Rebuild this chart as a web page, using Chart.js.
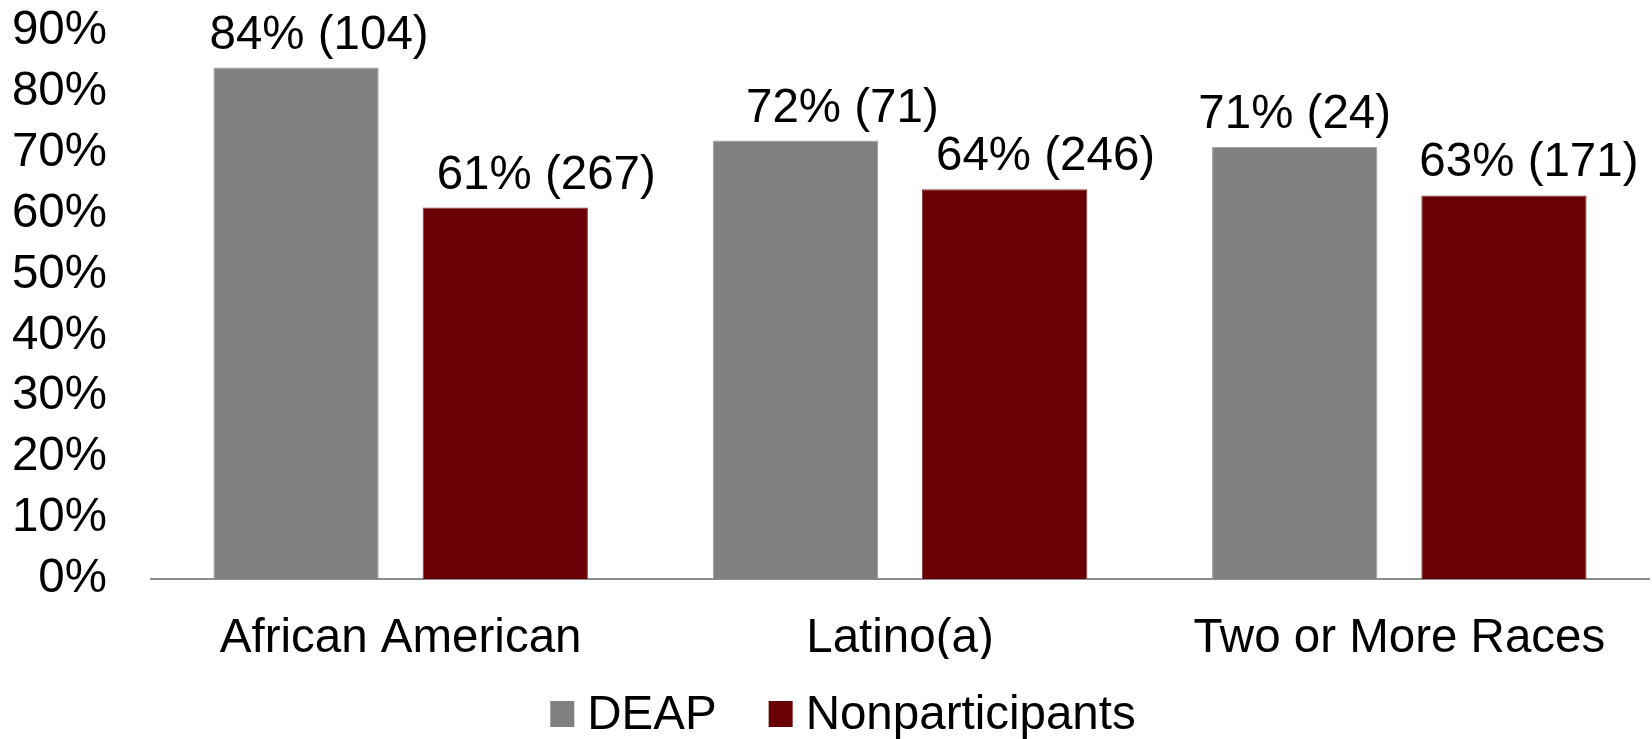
<!DOCTYPE html>
<html>
<head>
<meta charset="utf-8">
<script src="https://cdn.jsdelivr.net/npm/chart.js@4/dist/chart.umd.min.js"></script>
<style>
  html, body { margin: 0; padding: 0; background: #fff; }
  #wrap { width: 1652px; height: 739px; position: relative; }
</style>
</head>
<body>
<div id="wrap"><canvas id="rateChart"></canvas></div>
<script>
// Chart data
const categories = ['African American', 'Latino(a)', 'Two or More Races'];
const seriesNames = ['DEAP', 'Nonparticipants'];
const deapPct = [84, 72, 71];
const deapCount = [104, 71, 24];
const nonPct = [61, 64, 63];
const nonCount = [267, 246, 171];
const yTicks = [0, 10, 20, 30, 40, 50, 60, 70, 80, 90];

const FONT = "'Liberation Sans', Arial, sans-serif";
const FONT_SIZE = 47.5;

// Draw "84% (104)" style labels above each bar
const valueLabels = {
    id: 'valueLabels',
    afterDatasetsDraw(chart, args, opts) {
        const ctx = chart.ctx;
        ctx.save();
        ctx.font = FONT_SIZE + 'px ' + FONT;
        ctx.fillStyle = '#000';
        ctx.textAlign = 'center';
        ctx.textBaseline = 'alphabetic';
        chart.data.datasets.forEach(function(ds, di) {
            const meta = chart.getDatasetMeta(di);
            meta.data.forEach(function(bar, i) {
                const text = ds.data[i] + '% (' + ds.counts[i] + ')';
                ctx.fillText(text, bar.x + opts.nudge[di][i], bar.y - opts.gap);
            });
        });
        ctx.restore();
    }
};

// Legend drawn by hand: the built-in one ties item spacing to vertical padding
const bottomLegend = {
    id: 'bottomLegend',
    afterDraw(chart, args, opts) {
        const ctx = chart.ctx;
        const datasets = chart.data.datasets;
        ctx.save();
        ctx.font = FONT_SIZE + 'px ' + FONT;
        ctx.textBaseline = 'middle';
        ctx.textAlign = 'left';

        // Total width so the row can be centred
        let total = 0;
        datasets.forEach(function(ds, i) {
            total += opts.box + opts.textGap + ctx.measureText(ds.label).width;
            if (i < datasets.length - 1) total += opts.itemGap;
        });

        let x = chart.width / 2 + opts.shiftX - total / 2;
        const y = chart.height - opts.fromBottom;
        datasets.forEach(function(ds) {
            ctx.fillStyle = ds.backgroundColor;
            ctx.fillRect(x, y - opts.boxH / 2, opts.box, opts.boxH);
            x += opts.box + opts.textGap;
            ctx.fillStyle = '#000';
            ctx.fillText(ds.label, x, y + 2);
            x += ctx.measureText(ds.label).width + opts.itemGap;
        });
        ctx.restore();
    }
};

const ctx = document.getElementById('rateChart').getContext('2d');
new Chart(ctx, {
    type: 'bar',
    data: {
        labels: categories,
        datasets: [
            {
                label: seriesNames[0],
                data: deapPct,
                counts: deapCount,
                backgroundColor: '#808080',
                borderColor: '#9c9c9c',
                borderWidth: 1,
                categoryPercentage: 0.838,
                barPercentage: 0.79
            },
            {
                label: seriesNames[1],
                data: nonPct,
                counts: nonCount,
                backgroundColor: '#690005',
                borderColor: '#8a3a3c',
                borderWidth: 1,
                categoryPercentage: 0.838,
                barPercentage: 0.79
            }
        ]
    },
    options: {
        responsive: true,
        maintainAspectRatio: false,
        animation: false,
        layout: {
            padding: { left: 0, right: 3, top: 31, bottom: 80 }
        },
        plugins: {
            legend: { display: false },
            tooltip: { enabled: false },
            valueLabels: {
                gap: 19,
                nudge: [[23, 47, 0], [41, 41, 25]]
            },
            bottomLegend: {
                box: 24,
                boxH: 26,
                textGap: 13,
                itemGap: 52,
                shiftX: 17,
                fromBottom: 25
            }
        },
        scales: {
            x: {
                afterFit: function(axis) { axis.height = 80; },
                grid: { display: false, drawTicks: false },
                border: { display: true, color: '#8c8c8c', width: 2 },
                ticks: {
                    color: '#000',
                    padding: 31,
                    maxRotation: 0,
                    font: { family: FONT, size: FONT_SIZE }
                }
            },
            y: {
                min: 0,
                max: 90,
                afterFit: function(axis) {
                    axis.width = 151;
                    axis.paddingTop = 0;
                    axis.paddingBottom = 0;
                },
                afterBuildTicks: function(axis) {
                    axis.ticks = yTicks.map(function(v) { return { value: v }; });
                },
                grid: { display: false, drawTicks: false },
                border: { display: false },
                ticks: {
                    color: '#000',
                    padding: 44,
                    autoSkip: false,
                    font: { family: FONT, size: FONT_SIZE, lineHeight: 1 },
                    callback: function(value) {
                        return value + '%';
                    }
                }
            }
        }
    },
    plugins: [valueLabels, bottomLegend]
});
</script>
</body>
</html>
